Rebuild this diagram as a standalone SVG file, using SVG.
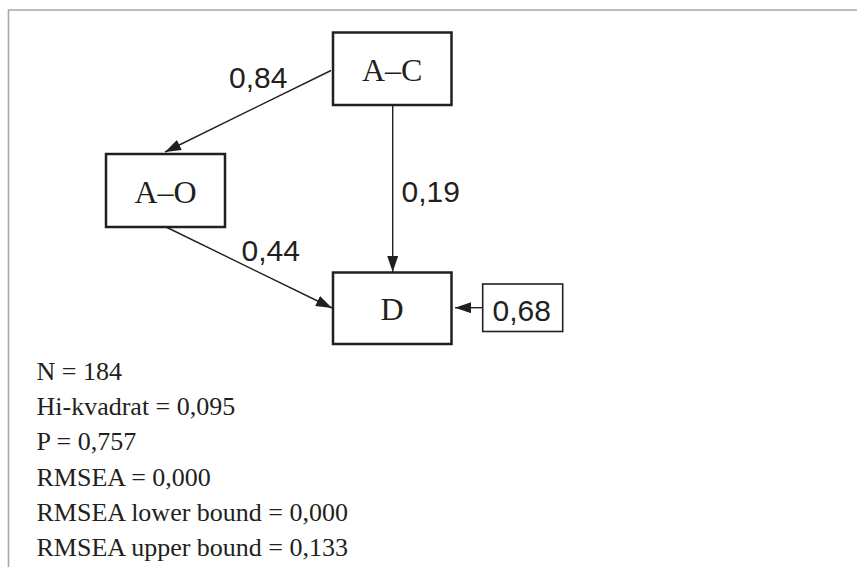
<svg xmlns="http://www.w3.org/2000/svg" width="857" height="567" viewBox="0 0 857 567">
<style>
.node{fill:#fff;stroke:#231f20;stroke-width:2.5}
.err{fill:#fff;stroke:#231f20;stroke-width:1.6}
.nl{font-family:"Liberation Serif","Times New Roman",serif;font-size:32px;fill:#231f20;text-anchor:middle}
.num{font-family:"Liberation Sans",Arial,sans-serif;font-size:30px;fill:#231f20}
.st{font-family:"Liberation Serif","Times New Roman",serif;font-size:26px;fill:#231f20}
.edge{stroke:#231f20;stroke-width:1.4;fill:none;marker-end:url(#ah)}
</style>
<defs>
<marker id="ah" viewBox="0 0 16 11" refX="16" refY="5.5" markerWidth="16" markerHeight="11" markerUnits="userSpaceOnUse" orient="auto">
<path d="M0,0 L16,5.5 L0,11 Z" fill="#231f20"/>
</marker>
</defs>
<rect width="857" height="567" fill="#fff"/>
<path d="M8.5,567 V10 H857" fill="none" stroke="#a7a7a7" stroke-width="1.6"/>
<g id="connectors">
<line class="edge" x1="331" y1="70.5" x2="165" y2="152"/>
<line class="edge" x1="392.7" y1="105" x2="392.7" y2="272"/>
<line class="edge" x1="166" y1="227" x2="332" y2="308"/>
<line class="edge" x1="482.7" y1="307.7" x2="455" y2="307.7"/>
<text class="num" x="229" y="88">0,84</text>
<text class="num" x="401.5" y="202">0,19</text>
<text class="num" x="241.5" y="261">0,44</text>
</g>
<g id="node-AC">
<rect class="node" x="333" y="32.5" width="118.5" height="72.5"/>
<text class="nl" x="392.2" y="80.7">A–C</text>
</g>
<g id="node-AO">
<rect class="node" x="106" y="154" width="119" height="73"/>
<text class="nl" x="165.5" y="202.7">A–O</text>
</g>
<g id="node-D">
<rect class="node" x="333" y="272.5" width="118.5" height="71.5"/>
<text class="nl" x="392" y="320">D</text>
</g>
<g id="node-err">
<rect class="err" x="482.7" y="284" width="80" height="47.5"/>
<text class="num" x="492.5" y="320.7">0,68</text>
</g>
<g id="stats">
<text class="st" x="36.5" y="380">N = 184</text>
<text class="st" x="36.5" y="415">Hi-kvadrat = 0,095</text>
<text class="st" x="36.5" y="450">P = 0,757</text>
<text class="st" x="36.5" y="486">RMSEA = 0,000</text>
<text class="st" x="36.5" y="521">RMSEA lower bound = 0,000</text>
<text class="st" x="36.5" y="556">RMSEA upper bound = 0,133</text>
</g>
</svg>
